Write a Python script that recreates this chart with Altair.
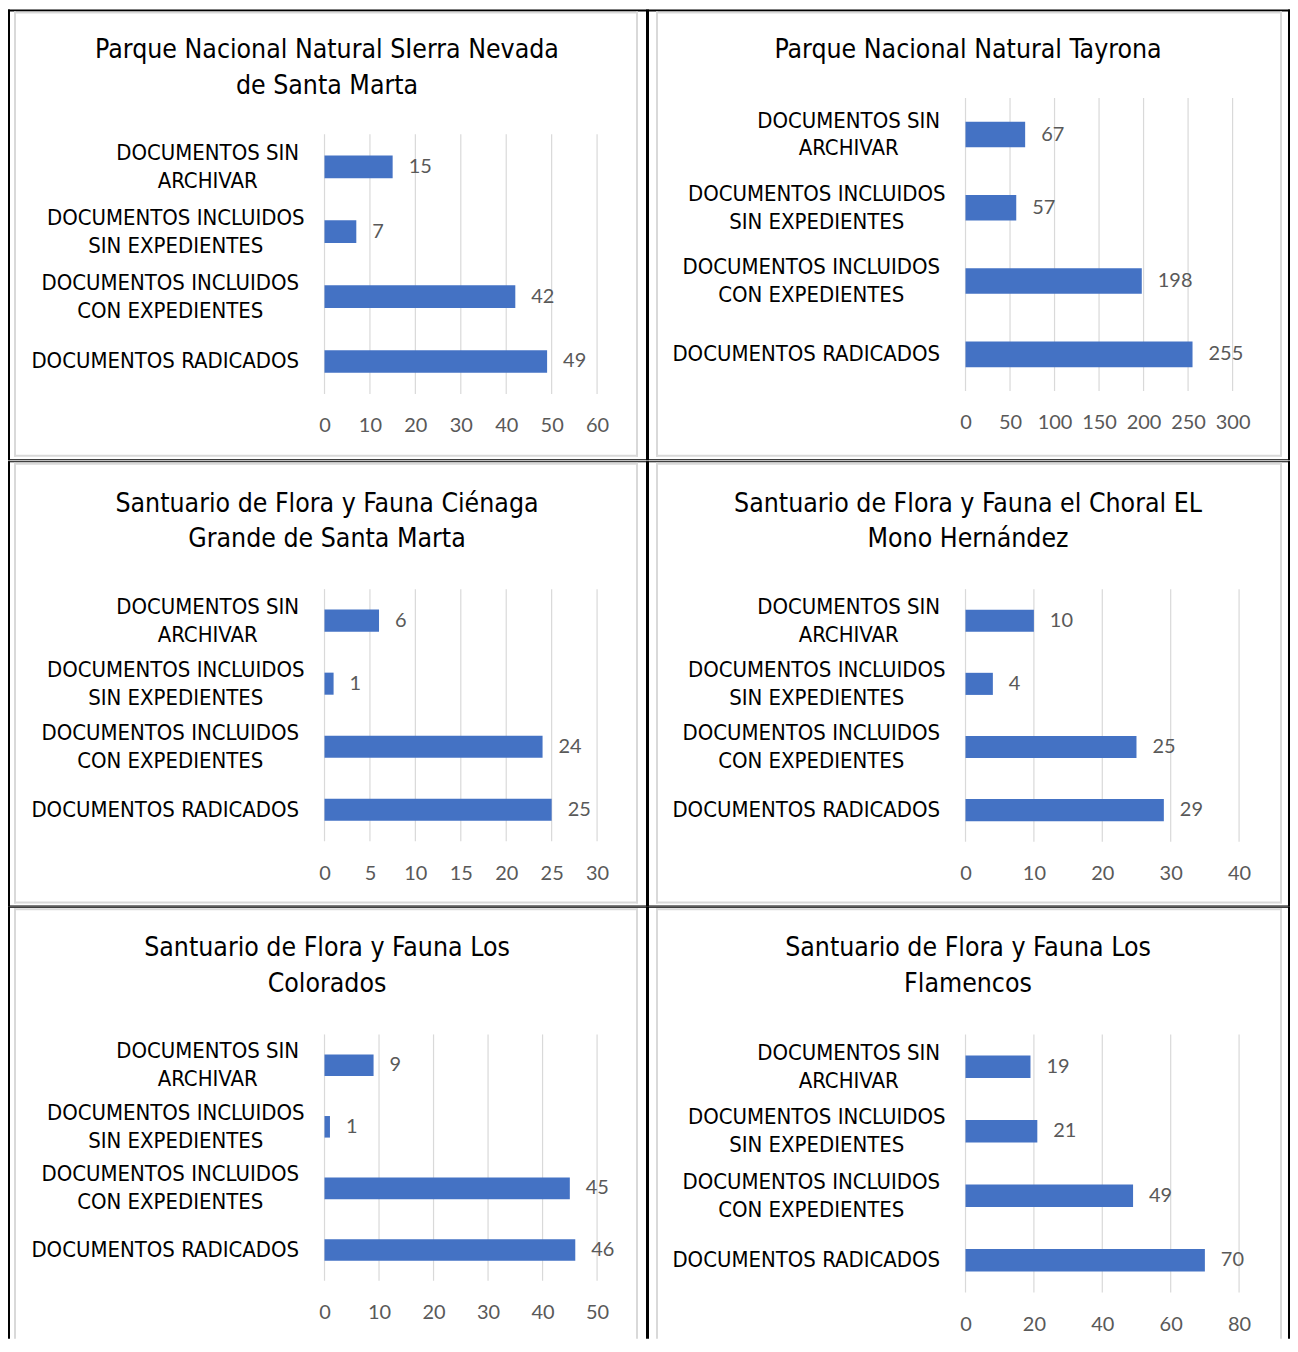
import altair as alt
import pandas as pd

# ---------------- data ----------------
categories = [
    "DOCUMENTOS SIN|ARCHIVAR",
    "DOCUMENTOS INCLUIDOS|SIN EXPEDIENTES",
    "DOCUMENTOS INCLUIDOS|CON EXPEDIENTES",
    "DOCUMENTOS RADICADOS",
]

title_sierra = ["Parque Nacional Natural SIerra Nevada", "de Santa Marta"]
title_tayrona = "Parque Nacional Natural Tayrona"
title_cienaga = ["Santuario de Flora y Fauna Ciénaga", "Grande de Santa Marta"]
title_choral = ["Santuario de Flora y Fauna el Choral EL", "Mono Hernández"]
title_colorados = ["Santuario de Flora y Fauna Los", "Colorados"]
title_flamencos = ["Santuario de Flora y Fauna Los", "Flamencos"]

values_sierra = [15, 7, 42, 49]
values_tayrona = [67, 57, 198, 255]
values_cienaga = [6, 1, 24, 25]
values_choral = [10, 4, 25, 29]
values_colorados = [9, 1, 45, 46]
values_flamencos = [19, 21, 49, 70]

ticks_sierra = [0, 10, 20, 30, 40, 50, 60]
ticks_tayrona = [0, 50, 100, 150, 200, 250, 300]
ticks_cienaga = [0, 5, 10, 15, 20, 25, 30]
ticks_choral = [0, 10, 20, 30, 40]
ticks_colorados = [0, 10, 20, 30, 40, 50]
ticks_flamencos = [0, 20, 40, 60, 80]

# ---------------- style / layout ----------------
NARROW = "Liberation Sans Narrow, Arial Narrow, DejaVu Sans Condensed, sans-serif"
NUMFONT = "Lato, Open Sans, sans-serif"
BAR = "#4472C4"
GREY_TXT = "#595959"
GRID = "#d9d9d9"

# label block centre distance from the axis, per category
label_pad = [117.5, 149.5, 155, 160]

cols = [
    dict(cx1=8, cx2=649, bl=2, br=2, g1=14, g2=637, tx=327.5),
    dict(cx1=649, cx2=1292, bl=1, br=2, g1=657, g2=1282, tx=969.5),
]
rows = [
    dict(cy1=8, cy2=459.5, bt=2, bb=1, gt=10, gb=454, ty=56.7, vt=96.5, vb=393),
    dict(cy1=459.5, cy2=905.5, bt=1, bb=1, gt=461, gb=900.5, ty=510, vt=587.7, vb=840.7),
    dict(cy1=905.5, cy2=1338, bt=1, bb=0, gt=907, gb=None, ty=955, vt=1033.3, vb=1291.7),
]

one = pd.DataFrame({"k": [0]})


def rect(x1, x2, y1, y2, color):
    return alt.Chart(one).mark_rect(color=color).encode(
        x=alt.value(x1), x2=alt.value(x2), y=alt.value(y1), y2=alt.value(y2)
    )


def panel(title, values, ticks, col, row, vl, w, pt, pb):
    c, r = cols[col], rows[row]
    vt, vb = r["vt"], r["vb"]
    X = lambda a: a - vl
    Y = lambda a: a - vt
    layers = []
    # black table lines
    layers.append(rect(X(c["cx1"]), X(c["cx1"] + c["bl"]), Y(r["cy1"]), Y(r["cy2"]), "black"))
    layers.append(rect(X(c["cx2"] - c["br"]), X(c["cx2"]), Y(r["cy1"]), Y(r["cy2"]), "black"))
    layers.append(rect(X(c["cx1"]), X(c["cx2"]), Y(r["cy1"]), Y(r["cy1"] + r["bt"]), "black"))
    if r["bb"]:
        layers.append(rect(X(c["cx1"]), X(c["cx2"]), Y(r["cy2"] - r["bb"]), Y(r["cy2"]), "black"))
    # grey chart frame
    gbot = (r["gb"] + 2) if r["gb"] is not None else (r["cy2"])
    layers.append(rect(X(c["g1"]), X(c["g1"] + 2), Y(r["gt"]), Y(gbot), GRID))
    layers.append(rect(X(c["g2"]), X(c["g2"] + 2), Y(r["gt"]), Y(gbot), GRID))
    layers.append(rect(X(c["g1"]), X(c["g2"] + 2), Y(r["gt"]), Y(r["gt"] + 2), GRID))
    if r["gb"] is not None:
        layers.append(rect(X(c["g1"]), X(c["g2"] + 2), Y(r["gb"]), Y(r["gb"] + 2), GRID))

    xscale = alt.Scale(domain=[ticks[0], ticks[-1]], nice=False)
    # vertical gridlines, only over the bar region
    grid = alt.Chart(pd.DataFrame({"tick": ticks})).mark_rule(color=GRID, strokeWidth=1.2).encode(
        x=alt.X("tick:Q", scale=xscale, title=None),
        y=alt.value(Y(pt)),
        y2=alt.value(Y(pb)),
    )

    df = pd.DataFrame({"cat": categories, "value": values})
    pad_cond = {
        "condition": [
            {"test": f"datum.value === '{cat}'", "value": p}
            for cat, p in zip(categories[:-1], label_pad[:-1])
        ],
        "value": label_pad[-1],
    }
    off_cond = {
        "condition": {"test": "indexof(datum.value, '|') >= 0", "value": -14},
        "value": 0,
    }
    base = alt.Chart(df).encode(
        x=alt.X(
            "value:Q",
            title=None,
            scale=xscale,
            axis=alt.Axis(
                values=ticks,
                labelFont=NUMFONT,
                labelFontSize=20,
                labelColor=GREY_TXT,
                labelPadding=22,
                labelFlush=False,
                labelOverlap=False,
                domain=False,
                ticks=False,
                tickSize=0,
                grid=False,
                offset=-(vb - pb),
            ),
        ),
        y=alt.Y(
            "cat:N",
            title=None,
            sort=categories,
            scale=alt.Scale(range=[Y(pt), Y(pb)], paddingInner=0.65, paddingOuter=0.325),
            axis=alt.Axis(
                labelExpr="split(datum.label, '|')",
                labelFont=NARROW,
                labelFontSize=22,
                labelColor="black",
                labelLineHeight=28,
                labelAlign="center",
                labelBaseline="middle",
                labelPadding=pad_cond,
                labelOffset=off_cond,
                labelLimit=0,
                domain=False,
                ticks=False,
                tickSize=0,
                grid=False,
            ),
        ),
    )
    bars = base.mark_bar(color=BAR)
    labels = base.mark_text(
        align="left", baseline="middle", dx=16, font=NUMFONT, fontSize=20, color=GREY_TXT
    ).encode(text=alt.Text("value:Q"))
    ttl = alt.Chart(one).mark_text(
        align="center", baseline="alphabetic", font=NARROW, fontSize=26.5, lineHeight=36, color="black"
    ).encode(x=alt.value(X(c["tx"])), y=alt.value(Y(r["ty"])), text=alt.value(title))

    return alt.layer(*layers, grid, bars, labels, ttl).properties(width=w, height=vb - vt)


p1 = panel(title_sierra, values_sierra, ticks_sierra, 0, 0, 325, 273, 133, 393)
p2 = panel(title_tayrona, values_tayrona, ticks_tayrona, 1, 0, 967, 267.5, 96.5, 390)
p3 = panel(title_cienaga, values_cienaga, ticks_cienaga, 0, 1, 325, 273, 587.7, 840.2)
p4 = panel(title_choral, values_choral, ticks_choral, 1, 1, 967, 274, 587.7, 840.7)
p5 = panel(title_colorados, values_colorados, ticks_colorados, 0, 2, 325, 273, 1033.3, 1280)
p6 = panel(title_flamencos, values_flamencos, ticks_flamencos, 1, 2, 967, 274, 1033.3, 1291.7)

chart = (
    alt.vconcat(
        alt.hconcat(p1, p2, spacing=0),
        alt.hconcat(p3, p4, spacing=0),
        alt.hconcat(p5, p6, spacing=0),
        spacing=0,
    )
    .properties(padding=0, background="white")
    .configure_view(strokeWidth=0)
)

chart.save("out.html", embed_options={"renderer": "svg", "actions": False})
